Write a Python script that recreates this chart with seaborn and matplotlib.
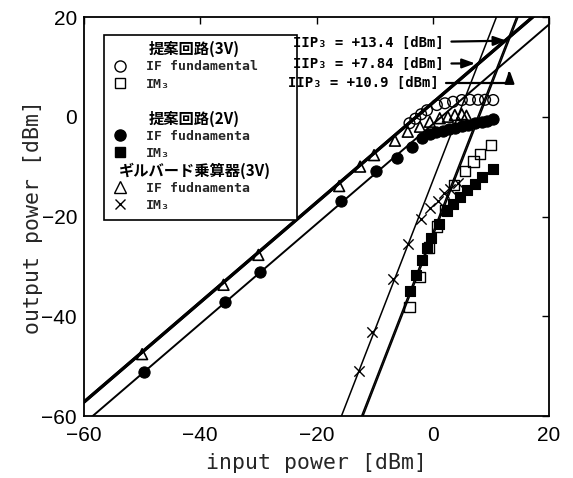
import numpy as np
import matplotlib
matplotlib.use("Agg")
import matplotlib.pyplot as plt
import seaborn as sns
from matplotlib.lines import Line2D

# ---------------- data ----------------
# 提案回路(3V) IF fundamental (open circles)
p3v_fund_x = [-4.0, -3.0, -2.0, -1.0, 0.7, 2.1, 3.5, 5.0, 6.4, 7.8, 9.0, 10.4]
p3v_fund_y = [-1.3, -0.4, 0.5, 1.3, 2.35, 2.7, 3.0, 3.35, 3.4, 3.4, 3.4, 3.35]
# 提案回路(3V) IM3 (open squares)
p3v_im3_x = [-4.0, -2.2, -0.6, 0.7, 2.1, 3.6, 5.5, 7.0, 8.1, 10.0]
p3v_im3_y = [-38.1, -32.2, -26.2, -22.0, -18.7, -13.7, -10.9, -9.0, -7.4, -5.6]
# 提案回路(2V) IF fundamental (filled circles)
p2v_fund_x = [-49.6, -35.7, -29.7, -15.7, -9.8, -6.2, -3.6, -1.9, -0.5, 0.6, 1.7,
              2.8, 3.9, 5.0, 6.1, 7.2, 8.4, 9.4, 10.4]
p2v_fund_y = [-51.1, -37.1, -31.1, -16.8, -10.9, -8.2, -6.0, -4.3, -3.4, -3.1, -2.8,
              -2.5, -2.2, -1.9, -1.6, -1.3, -1.0, -0.8, -0.5]
# 提案回路(2V) IM3 (filled squares)
p2v_im3_x = [-3.9, -2.9, -1.9, -1.0, -0.3, 1.1, 2.4, 3.5, 4.7, 5.9, 7.3, 8.4, 10.4]
p2v_im3_y = [-35.0, -31.8, -28.7, -26.4, -24.4, -21.6, -18.9, -17.4, -16.0, -14.6,
             -13.4, -12.1, -10.5]
# ギルバード乗算器(3V) IF fundamental (triangles)
gil_fund_x = [-50.0, -36.0, -30.0, -16.1, -12.5, -10.1, -6.5, -4.3, -2.2, -0.5,
              1.2, 2.6, 3.8, 5.0, 5.8]
gil_fund_y = [-47.6, -33.7, -27.7, -13.9, -10.0, -7.7, -4.8, -3.0, -2.0, -1.0,
              -0.3, 0.0, 0.35, 0.5, 0.2]
# ギルバード乗算器(3V) IM3 (crosses)
gil_im3_x = [-12.7, -10.4, -6.8, -4.2, -2.1, -0.4, 0.9, 1.9, 3.0, 4.4]
gil_im3_y = [-51.0, -43.2, -32.5, -25.5, -20.6, -18.2, -16.8, -15.3, -14.4, -13.2]

# fitted lines: fundamental gain offsets [dB] and IIP3 values [dBm]
fit_names = ["提案回路(3V)", "提案回路(2V)", "ギルバード乗算器(3V)"]
fit_gain = [2.8, -1.5, 2.8]
fit_iip3 = [13.4, 10.9, 7.84]
fit_x = [-60.0, 20.0]

# annotation texts and arrow targets
iip3_labels = ["IIP₃ = +13.4 [dBm]", "IIP₃ = +7.84 [dBm]", "IIP₃ = +10.9 [dBm]"]
iip3_text_xy = [(-24.0, 14.8), (-24.0, 10.6), (-24.9, 6.8)]
iip3_arrow_xy = [(12.7, 15.25), (7.3, 10.7), (13.2, 9.4)]

group_titles = ["提案回路(3V)", "提案回路(2V)", "ギルバード乗算器(3V)"]
legend_labels = [" ", "IF fundamental", "IM₃", " ", " ", "IF fudnamenta", "IM₃",
                 " ", "IF fudnamenta", "IM₃"]
title_rows = [0, 4, 7]

x_ticks = [-60, -40, -20, 0, 20]
y_ticks = [-60, -40, -20, 0, 20]

# ---------------- style ----------------
sns.set_theme(style="white")
plt.rcParams['font.family'] = ['Liberation Sans', 'DejaVu Sans']
plt.rcParams['axes.edgecolor'] = 'black'
plt.rcParams['axes.linewidth'] = 1.3

fig = plt.figure(figsize=(5.73, 4.78), dpi=100)
ax = fig.add_axes([84 / 573, 1 - 416 / 478, 465 / 573, 399 / 478])

mono = ['DejaVu Sans Mono', 'DejaVu Sans']
cjk = ['Noto Sans CJK JP', 'DejaVu Sans']

# ---------------- fitted lines ----------------
xl = np.array(fit_x)
fund_lw = [2.3, 1.4, 2.3]
for g, ip, lw in zip(fit_gain, fit_iip3, fund_lw):
    sns.lineplot(x=xl, y=xl + g, ax=ax, color='black', lw=lw, zorder=2)
    c = 2 * ip - g
    sns.lineplot(x=xl, y=3 * xl - c, ax=ax, color='black', lw=1.1, zorder=2)

# ---------------- data points ----------------
kw = dict(ax=ax, color='black', zorder=3, legend=False)
sns.scatterplot(x=p3v_fund_x, y=p3v_fund_y, marker='o', s=60, facecolor='none',
                edgecolor='black', linewidth=1.0, **kw)
sns.scatterplot(x=p3v_im3_x, y=p3v_im3_y, marker='s', s=55, facecolor='none',
                edgecolor='black', linewidth=1.0, **kw)
sns.scatterplot(x=p2v_fund_x, y=p2v_fund_y, marker='o', s=65, facecolor='black',
                edgecolor='black', linewidth=0.8, **kw)
sns.scatterplot(x=p2v_im3_x, y=p2v_im3_y, marker='s', s=60, facecolor='black',
                edgecolor='black', linewidth=0.8, **kw)
sns.scatterplot(x=gil_fund_x, y=gil_fund_y, marker='^', s=60, facecolor='none',
                edgecolor='black', linewidth=1.2, **kw)
sns.scatterplot(x=gil_im3_x, y=gil_im3_y, marker='x', s=55, linewidth=1.0, **kw)

# ---------------- annotations ----------------
for i, (lab, txy, axy) in enumerate(zip(iip3_labels, iip3_text_xy, iip3_arrow_xy)):
    cs = "angle,angleA=0,angleB=90,rad=0" if i == 2 else "arc3,rad=0"
    ax.annotate(lab, xy=axy, xytext=txy, ha='left', va='center',
                fontsize=10, family=mono, weight='bold', color='black', zorder=6,
                arrowprops=dict(arrowstyle='-|>,head_length=0.55,head_width=0.2',
                                mutation_scale=14, lw=1.6, color='black',
                                connectionstyle=cs, shrinkA=3, shrinkB=0))

# ---------------- axes ----------------
ax.set_xlim(-60, 20)
ax.set_ylim(-60, 20)
ax.set_xticks(x_ticks)
ax.set_yticks(y_ticks)
ax.tick_params(direction='in', top=True, right=True, length=5, width=1.0,
               labelsize=15, colors='black')
ax.tick_params(axis='x', pad=7)
ax.tick_params(axis='y', pad=5)
for s in ax.spines.values():
    s.set_visible(True)
    s.set_color('black')
ax.set_xlabel("input power [dBm]", fontsize=15.5, family=mono, labelpad=6)
ax.set_ylabel("output power [dBm]", fontsize=15.5, family=mono, labelpad=-1)

# ---------------- legend ----------------
blank = Line2D([], [], ls='none', marker=None)
hk = dict(ls='none', mec='black', mew=1.0)
handles = [
    blank,
    Line2D([], [], marker='o', mfc='none', ms=8, **hk),
    Line2D([], [], marker='s', mfc='none', ms=7, **hk),
    blank, blank,
    Line2D([], [], marker='o', mfc='black', ms=8, **hk),
    Line2D([], [], marker='s', mfc='black', ms=7, **hk),
    blank,
    Line2D([], [], marker='^', mfc='none', ms=8, **hk),
    Line2D([], [], marker='x', ms=7, **hk),
]
leg = ax.legend(handles, legend_labels, loc='upper left', mode='expand',
                bbox_to_anchor=(0.043, 0.496, 0.415, 0.459), borderaxespad=0,
                prop={'family': mono, 'size': 9.5, 'weight': 'bold'}, frameon=True,
                fancybox=False, framealpha=1, edgecolor='black', borderpad=0.6,
                handlelength=1.2, handletextpad=1.4, labelspacing=0.33)
leg.get_frame().set_linewidth(1.2)
leg.set_zorder(5)

fig.canvas.draw()
fbb = leg.get_frame().get_window_extent()
inv = ax.transAxes.inverted()
texts = leg.get_texts()
for idx, title in zip(title_rows, group_titles):
    bb = texts[idx].get_window_extent()
    yc = (bb.y0 + bb.y1) / 2
    xc = (fbb.x0 + fbb.x1) / 2 - 6
    xa, ya = inv.transform((xc, yc))
    ax.text(xa, ya, title, transform=ax.transAxes, ha='center', va='center',
            fontsize=11, family=cjk, weight='bold', color='black', zorder=7)

fig.savefig('out.png', dpi=100)
